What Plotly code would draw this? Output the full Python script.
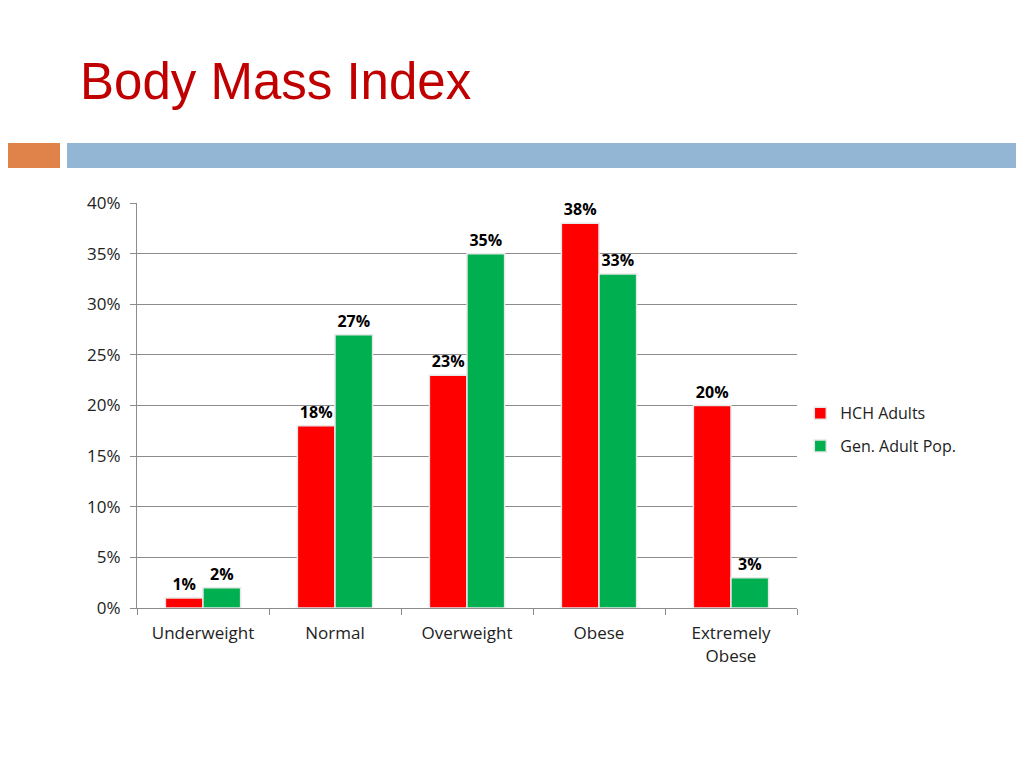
import plotly.graph_objects as go

categories = ["Underweight", "Normal", "Overweight", "Obese", "Extremely<br>Obese"]
hch_adults = [0.01, 0.18, 0.23, 0.38, 0.20]
gen_adult_pop = [0.02, 0.27, 0.35, 0.33, 0.03]
y_ticks = [0, 0.05, 0.10, 0.15, 0.20, 0.25, 0.30, 0.35, 0.40]

lbl_font = dict(family="Open Sans", size=16, color="black")

fig = go.Figure()
fig.add_trace(go.Bar(x=categories, y=hch_adults, name="HCH Adults", legendgroup="a",
                     marker=dict(color="#FF0000", line=dict(color="#E8E8E8", width=1.5)),
                     text=[f"<b>{v:.0%}</b>" for v in hch_adults], textposition="outside",
                     textfont=lbl_font, cliponaxis=False))
fig.add_trace(go.Bar(x=categories, y=gen_adult_pop, name="Gen. Adult Pop.", legendgroup="b",
                     marker=dict(color="#00B050", line=dict(color="#E8E8E8", width=1.5)),
                     text=[f"<b>{v:.0%}</b>" for v in gen_adult_pop], textposition="outside",
                     textfont=lbl_font, cliponaxis=False))

# page is offset by 8px; plot area spans page x 137..797, y 203..608
def px_x(p):
    return (p - 137) / 660

def px_y(p):
    return (608 - p) / 405

# header decoration (orange block + blue strip)
fig.add_shape(type="rect", xref="paper", yref="paper", x0=px_x(-10), x1=px_x(60),
              y0=px_y(168), y1=px_y(143), fillcolor="#E0834A", line_width=0, layer="below")
fig.add_shape(type="rect", xref="paper", yref="paper", x0=px_x(67), x1=px_x(1100),
              y0=px_y(168), y1=px_y(143), fillcolor="#93B6D4", line_width=0, layer="below")

fig.update_layout(
    width=1024, height=768,
    margin=dict(l=129, r=235, t=195, b=168),
    paper_bgcolor="white", plot_bgcolor="white",
    title=dict(text="Body Mass Index", x=72/1024, xanchor="left", xref="container",
               y=1 - 73/768, yanchor="middle", yref="container",
               font=dict(family="Liberation Sans, Arial", size=51, color="#C00000")),
    barmode="group", bargap=0.43, bargroupgap=0,
    font=dict(family="Open Sans", size=17, color="#222"),
    legend=dict(x=1.005, y=0.44, xanchor="left", yanchor="middle", itemwidth=30,
                font=dict(size=16, color="#222"), tracegroupgap=9),
    showlegend=True,
)
fig.update_yaxes(range=[0, 0.40], tickvals=y_ticks, tickformat=".0%",
                 showgrid=True, gridcolor="#8C8C8C", gridwidth=1,
                 showline=True, linecolor="#8C8C8C", ticks="outside", ticklen=6,
                 tickcolor="#8C8C8C", zeroline=False, ticklabelstandoff=6)
fig.update_xaxes(showline=True, linecolor="#8C8C8C", ticks="outside", ticklen=6,
                 tickcolor="#8C8C8C", tickson="boundaries", showgrid=False,
                 ticklabelstandoff=10)

fig.write_html("out.html")
